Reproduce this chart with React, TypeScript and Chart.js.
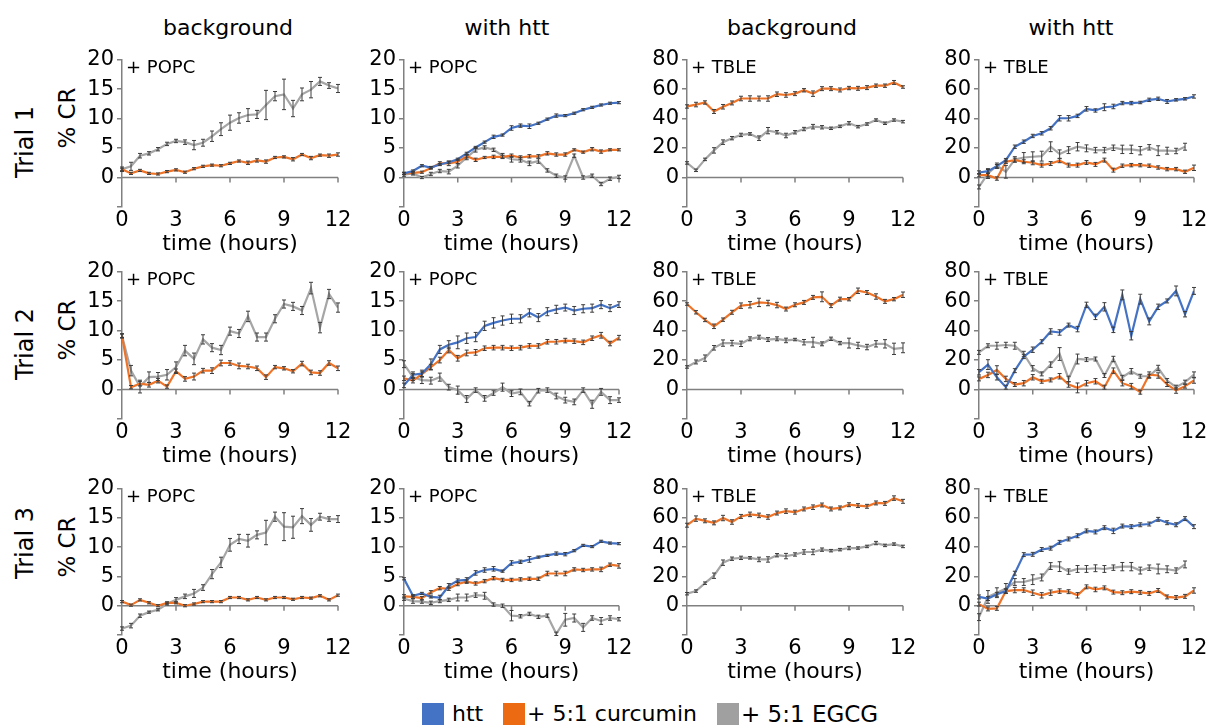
import React, { useEffect, useRef } from 'react';
import { Chart, registerables } from 'chart.js';

Chart.register(...registerables);

// ---------- shared axis values ----------
const hours = [0, 0.5, 1, 1.5, 2, 2.5, 3, 3.5, 4, 4.5, 5, 5.5, 6, 6.5, 7, 7.5, 8, 8.5, 9, 9.5, 10, 10.5, 11, 11.5, 12];
const xTicks = [0, 3, 6, 9, 12];
const popcTicks = [-5, 0, 5, 10, 15, 20];
const tbleTicks = [-20, 0, 20, 40, 60, 80];
const columnTitles = ['background', 'with htt', 'background', 'with htt'];
const rowLabels = ['Trial 1', 'Trial 2', 'Trial 3'];
const legendLabels = ['htt', '+ 5:1 curcumin', '+ 5:1 EGCG'];

// ---------- Trial 1 ----------
const t1BgPopcCur = [1.4, 0.7, 1.2, 0.7, 0.6, 1.0, 1.3, 0.9, 1.5, 1.9, 2.1, 2.0, 2.4, 2.8, 2.5, 2.9, 2.7, 3.4, 3.5, 3.1, 3.9, 3.3, 3.8, 3.7, 3.9];
const t1BgPopcCurErr = [0.1, 0.1, 0.1, 0.1, 0.1, 0.1, 0.1, 0.1, 0.1, 0.1, 0.1, 0.1, 0.1, 0.1, 0.2, 0.2, 0.2, 0.1, 0.1, 0.2, 0.1, 0.2, 0.1, 0.2, 0.2];
const t1BgPopcEgcg = [1.4, 1.9, 3.7, 4.1, 4.8, 5.7, 6.2, 6.0, 5.5, 5.9, 7.0, 8.2, 9.3, 10.1, 10.6, 10.7, 12.3, 13.8, 14.1, 11.7, 14.1, 14.9, 16.3, 15.6, 15.1];
const t1BgPopcEgcgErr = [0.3, 0.6, 0.3, 0.2, 0.2, 0.2, 0.2, 0.3, 0.7, 0.5, 0.8, 1.0, 1.2, 0.8, 1.0, 0.6, 2.4, 0.7, 2.5, 1.3, 1.0, 1.3, 0.6, 0.4, 0.6];

const t1HttPopcHtt = [0.7, 1.1, 2.0, 1.7, 2.2, 2.6, 3.1, 4.1, 5.1, 6.0, 6.9, 7.2, 8.4, 8.8, 8.7, 9.2, 9.9, 10.5, 10.5, 10.9, 11.5, 11.9, 12.3, 12.6, 12.7];
const t1HttPopcHttErr = [0.1, 0.1, 0.1, 0.1, 0.1, 0.1, 0.1, 0.1, 0.1, 0.1, 0.2, 0.1, 0.3, 0.2, 0.3, 0.1, 0.1, 0.2, 0.1, 0.1, 0.1, 0.1, 0.1, 0.1, 0.1];
const t1HttPopcCur = [0.7, 0.8, 0.9, 1.6, 2.4, 2.4, 2.7, 3.6, 3.0, 3.4, 3.5, 3.5, 3.7, 3.4, 3.6, 3.6, 4.1, 3.9, 3.9, 4.7, 4.3, 4.8, 4.4, 4.7, 4.7];
const t1HttPopcCurErr = [0.1, 0.1, 0.1, 0.1, 0.2, 0.3, 0.3, 0.2, 0.2, 0.1, 0.2, 0.2, 0.2, 0.2, 0.2, 0.2, 0.2, 0.2, 0.2, 0.1, 0.1, 0.2, 0.2, 0.1, 0.1];
const t1HttPopcEgcg = [0.5, 0.7, 0.0, 0.6, 1.1, 1.0, 2.0, 3.4, 4.7, 5.1, 4.7, 3.7, 3.1, 3.0, 2.4, 2.8, 1.2, 0.3, 0.0, 3.7, 0.0, 0.3, -1.1, -0.2, 0.1];
const t1HttPopcEgcgErr = [0.2, 0.2, 0.1, 0.2, 0.2, 0.3, 0.3, 0.3, 0.3, 0.2, 0.2, 0.3, 0.4, 0.3, 0.3, 0.3, 0.2, 0.2, 0.2, 0.2, 0.2, 0.2, 0.2, 0.2, 0.2];

const t1BgTbleCur = [48.2, 49.5, 50.9, 44.8, 48.0, 50.6, 53.6, 53.6, 53.6, 53.6, 56.5, 56.0, 56.9, 59.2, 56.9, 60.3, 60.3, 59.4, 60.7, 60.5, 61.0, 62.3, 62.3, 64.5, 61.4];
const t1BgTbleCurErr = [0.8, 1.2, 0.8, 1.0, 1.2, 1.0, 1.2, 1.5, 1.3, 1.5, 1.2, 1.2, 1.0, 0.8, 1.5, 1.0, 1.0, 1.0, 0.8, 1.0, 1.0, 0.8, 0.8, 1.0, 0.5];
const t1BgTbleEgcg = [9.9, 4.9, 12.3, 18.4, 24.0, 26.7, 28.9, 29.6, 26.7, 31.8, 30.7, 28.5, 30.7, 32.9, 34.5, 34.1, 33.4, 34.7, 36.8, 34.5, 36.3, 39.0, 36.8, 39.0, 37.9];
const t1BgTbleEgcgErr = [0.5, 0.5, 0.5, 1.5, 1.2, 0.8, 0.8, 0.5, 1.2, 1.8, 0.8, 1.2, 0.8, 0.8, 1.2, 0.8, 0.5, 0.5, 0.8, 0.5, 0.5, 0.5, 0.5, 0.5, 0.5];

const t1HttTbleHtt = [3.4, 4.3, 7.7, 11.8, 20.9, 24.3, 28.2, 30.0, 33.4, 40.2, 40.2, 41.8, 46.6, 45.5, 47.7, 48.2, 50.5, 50.5, 50.9, 52.7, 53.4, 51.6, 52.7, 53.4, 55.0];
const t1HttTbleHttErr = [0.8, 0.8, 0.8, 0.8, 0.8, 0.8, 0.8, 0.8, 0.8, 1.5, 1.5, 0.8, 1.2, 0.8, 2.0, 1.2, 0.8, 0.8, 0.5, 0.8, 0.8, 1.0, 0.5, 0.5, 0.8];
const t1HttTbleCur = [1.6, 1.6, -0.7, 10.7, 11.8, 10.7, 10.0, 8.4, 9.5, 11.4, 8.4, 8.4, 10.2, 8.9, 11.8, 5.0, 8.0, 8.4, 8.4, 8.0, 6.8, 5.7, 5.7, 3.9, 6.6];
const t1HttTbleCurErr = [0.8, 0.8, 0.8, 0.8, 1.0, 1.0, 1.0, 1.0, 1.0, 1.0, 1.0, 1.0, 1.0, 1.0, 1.0, 1.0, 0.8, 0.8, 0.8, 0.8, 0.8, 0.8, 0.8, 0.8, 1.5];
const t1HttTbleEgcg = [-6.4, 2.7, 8.0, 3.9, 12.3, 13.6, 14.1, 14.5, 20.9, 15.9, 18.6, 20.9, 19.8, 18.6, 18.6, 20.2, 19.1, 19.1, 18.2, 20.5, 18.2, 18.2, 18.0, 20.9, null];
const t1HttTbleEgcgErr = [1.0, 3.0, 1.5, 4.0, 1.5, 3.0, 3.0, 3.0, 3.0, 2.5, 2.0, 2.5, 2.0, 1.5, 1.5, 1.5, 2.5, 2.5, 2.5, 1.5, 3.0, 2.0, 1.5, 2.0, 0];

// ---------- Trial 2 ----------
const t2BgPopcCur = [9.1, 0.4, 1.0, 0.8, 1.5, 0.5, 3.1, 1.8, 2.2, 3.2, 3.2, 4.5, 4.5, 4.0, 3.9, 3.6, 2.1, 3.8, 3.6, 3.1, 4.4, 2.9, 2.8, 4.5, 3.6];
const t2BgPopcCurErr = [0.2, 0.2, 0.3, 0.3, 0.3, 0.2, 0.3, 0.3, 0.5, 0.3, 0.4, 0.4, 0.3, 0.4, 0.3, 0.3, 0.3, 0.2, 0.2, 0.2, 0.3, 0.3, 0.3, 0.3, 0.3];
const t2BgPopcEgcg = [9.1, 3.2, 0.5, 2.1, 2.2, 2.5, 3.8, 6.6, 5.2, 8.5, 7.1, 6.7, 9.9, 9.5, 12.4, 8.9, 8.9, 12.0, 14.5, 14.1, 13.4, 17.2, 10.5, 16.2, 13.9];
const t2BgPopcEgcgErr = [0.3, 0.8, 1.0, 0.8, 0.6, 0.8, 0.8, 0.8, 0.9, 0.7, 0.6, 0.7, 0.6, 0.6, 0.8, 0.6, 0.6, 0.6, 0.6, 0.6, 0.6, 0.9, 0.8, 0.7, 0.7];

const t2HttPopcHtt = [0.7, 2.5, 2.7, 4.3, 6.8, 7.6, 8.0, 8.7, 8.9, 10.8, 11.3, 11.7, 12.0, 12.0, 13.0, 12.2, 13.2, 13.6, 13.9, 13.4, 13.7, 13.8, 14.4, 13.8, 14.4];
const t2HttPopcHttErr = [0.3, 0.4, 0.5, 0.8, 0.6, 0.6, 1.0, 0.8, 0.7, 0.7, 0.8, 0.7, 0.7, 0.6, 0.6, 0.6, 0.6, 0.6, 0.5, 0.6, 0.6, 0.6, 0.6, 0.5, 0.4];
const t2HttPopcCur = [1.9, 1.5, 2.6, 3.8, 5.0, 6.7, 5.3, 6.2, 6.3, 7.0, 7.1, 7.1, 7.0, 7.1, 7.4, 7.4, 8.1, 8.1, 8.3, 8.2, 8.0, 8.7, 9.2, 7.8, 8.8];
const t2HttPopcCurErr = [0.3, 0.3, 0.3, 0.4, 0.4, 0.4, 0.4, 0.4, 0.4, 0.3, 0.3, 0.3, 0.3, 0.3, 0.3, 0.3, 0.3, 0.3, 0.3, 0.3, 0.3, 0.3, 0.4, 0.3, 0.3];
const t2HttPopcEgcg = [4.3, 2.1, 1.6, 1.5, 2.1, 0.4, -0.1, -1.6, -0.1, -1.5, -0.6, 0.4, -0.7, -0.4, -2.4, -0.2, -0.1, -1.1, -1.8, -2.1, -0.1, -2.5, -0.4, -1.8, -1.8];
const t2HttPopcEgcgErr = [0.5, 0.5, 0.5, 0.5, 0.6, 0.4, 0.6, 0.5, 0.3, 0.4, 0.3, 0.6, 0.4, 0.4, 0.3, 0.3, 0.3, 0.4, 0.4, 0.4, 0.3, 0.6, 0.5, 0.5, 0.3];

const t2BgTbleCur = [58.0, 52.4, 47.2, 42.9, 47.4, 52.4, 56.9, 57.5, 59.1, 58.7, 57.3, 54.6, 57.5, 59.1, 62.5, 62.9, 56.9, 61.3, 61.3, 67.0, 65.8, 63.1, 59.8, 61.3, 64.3];
const t2BgTbleCurErr = [0.5, 0.8, 0.8, 1.2, 0.8, 1.0, 1.5, 1.8, 2.5, 1.5, 1.5, 1.0, 1.0, 1.0, 1.0, 3.0, 1.0, 1.0, 0.8, 1.5, 1.0, 1.5, 1.0, 0.8, 1.5];
const t2BgTbleEgcg = [15.3, 18.7, 21.3, 28.3, 31.5, 31.5, 31.0, 34.4, 35.5, 33.9, 34.4, 33.3, 33.9, 32.1, 32.1, 31.0, 34.4, 31.5, 31.5, 29.9, 28.8, 31.0, 31.0, 27.6, 28.3];
const t2BgTbleEgcgErr = [0.5, 1.0, 1.8, 1.2, 1.8, 1.5, 1.5, 1.0, 1.0, 1.0, 1.0, 1.2, 0.5, 1.5, 3.0, 1.0, 0.8, 0.8, 3.0, 1.8, 1.5, 1.8, 2.5, 3.5, 3.0];

const t2HttTbleHtt = [11.7, 16.9, 8.3, 1.6, 12.8, 22.3, 27.0, 32.4, 39.4, 38.7, 43.7, 41.0, 57.4, 49.3, 56.1, 40.5, 64.2, 36.5, 61.3, 46.2, 56.1, 60.1, 66.9, 51.1, 66.9];
const t2HttTbleHttErr = [1.5, 3.0, 1.5, 1.0, 1.0, 1.0, 1.5, 1.0, 1.5, 1.5, 1.0, 1.5, 1.5, 1.5, 2.5, 1.5, 3.0, 2.5, 3.0, 2.0, 1.5, 1.0, 3.0, 1.5, 2.0];
const t2HttTbleCur = [7.2, 9.9, 13.3, 7.2, 3.4, 4.3, 8.3, 5.6, 6.5, 9.0, 3.4, 1.1, 4.3, 5.6, 1.6, 12.8, 4.3, 2.3, -1.8, 10.1, 9.5, 3.4, -0.7, 2.3, 6.1];
const t2HttTbleCurErr = [1.0, 1.5, 2.5, 1.5, 1.0, 1.5, 1.5, 1.0, 1.0, 1.5, 1.5, 3.0, 1.5, 1.5, 1.0, 1.5, 1.5, 1.5, 1.0, 1.5, 1.5, 1.0, 1.5, 1.0, 1.5];
const t2HttTbleEgcg = [25.2, 29.7, 29.7, 30.2, 29.7, 24.1, 14.4, 10.6, 16.9, 24.1, 7.2, 20.7, 20.3, 20.7, 9.5, 20.7, 8.3, 12.4, 9.0, 9.0, 14.6, 6.1, 1.6, 5.0, 10.1];
const t2HttTbleEgcgErr = [1.0, 1.0, 2.0, 1.5, 2.0, 1.5, 1.5, 1.0, 1.5, 4.0, 1.5, 3.0, 1.0, 1.0, 1.0, 1.5, 1.0, 1.5, 1.0, 1.0, 1.5, 1.0, 1.0, 1.0, 1.5];

// ---------- Trial 3 ----------
const t3BgPopcCur = [0.7, 0.1, 1.0, 0.5, 0.0, 0.5, 0.5, 0.0, 0.3, 0.7, 0.7, 0.7, 1.4, 1.4, 1.0, 1.4, 1.0, 1.4, 1.4, 1.1, 1.4, 1.3, 1.7, 1.0, 1.8];
const t3BgPopcCurErr = [0.1, 0.1, 0.1, 0.1, 0.1, 0.1, 0.1, 0.1, 0.1, 0.1, 0.1, 0.1, 0.1, 0.1, 0.1, 0.1, 0.1, 0.1, 0.1, 0.1, 0.1, 0.1, 0.1, 0.1, 0.1];
const t3BgPopcEgcg = [-3.9, -3.4, -1.7, -1.1, -0.7, 0.3, 1.0, 1.6, 2.1, 3.1, 5.4, 7.4, 10.4, 11.4, 11.1, 12.1, 12.5, 15.2, 13.5, 13.4, 15.3, 13.8, 15.2, 14.8, 14.8];
const t3BgPopcEgcgErr = [0.2, 0.3, 0.2, 0.1, 0.1, 0.1, 0.3, 0.3, 0.6, 0.4, 0.7, 0.8, 1.0, 0.7, 1.0, 0.6, 2.0, 0.7, 2.3, 1.8, 1.2, 1.0, 0.5, 0.3, 0.5];

const t3HttPopcHtt = [4.6, 1.7, 2.1, 1.5, 1.4, 3.4, 4.3, 4.4, 5.6, 6.1, 6.3, 5.9, 7.3, 7.5, 7.9, 8.3, 8.6, 8.9, 8.8, 9.4, 10.3, 10.1, 11.0, 10.7, 10.6];
const t3HttPopcHttErr = [0.1, 0.1, 0.1, 0.1, 0.3, 0.3, 0.2, 0.3, 0.3, 0.3, 0.3, 0.1, 0.3, 0.2, 0.4, 0.1, 0.1, 0.2, 0.2, 0.1, 0.1, 0.1, 0.1, 0.1, 0.1];
const t3HttPopcCur = [1.6, 1.5, 1.3, 2.3, 3.0, 2.9, 3.7, 4.1, 3.8, 4.2, 4.7, 4.4, 4.4, 4.5, 4.6, 4.6, 5.5, 5.5, 5.5, 6.2, 6.1, 6.2, 6.2, 7.0, 6.8];
const t3HttPopcCurErr = [0.2, 0.2, 0.2, 0.2, 0.2, 0.2, 0.2, 0.2, 0.2, 0.2, 0.2, 0.2, 0.2, 0.2, 0.2, 0.2, 0.3, 0.3, 0.3, 0.2, 0.2, 0.2, 0.3, 0.2, 0.3];
const t3HttPopcEgcg = [1.2, 0.8, 0.7, 0.5, 0.8, 1.0, 1.4, 1.4, 1.8, 1.7, 0.2, 0.0, -1.7, -1.8, -1.4, -1.9, -1.7, -4.8, -2.4, -2.1, -3.7, -2.1, -2.6, -2.1, -2.3];
const t3HttPopcEgcgErr = [0.2, 0.3, 0.2, 0.2, 0.2, 0.2, 0.5, 0.5, 0.3, 0.5, 0.2, 0.2, 0.8, 0.2, 0.2, 0.2, 0.2, 0.2, 1.0, 0.6, 0.6, 0.3, 0.5, 0.3, 0.2];

const t3BgTbleCur = [55.0, 59.5, 58.0, 56.6, 59.9, 57.2, 61.0, 62.4, 61.7, 60.6, 63.3, 64.6, 63.9, 66.1, 67.3, 68.8, 66.1, 66.8, 69.0, 68.4, 67.9, 70.2, 69.9, 73.5, 71.3];
const t3BgTbleCurErr = [1.0, 1.5, 1.0, 1.0, 1.5, 1.2, 1.0, 1.2, 1.2, 1.2, 1.0, 1.2, 1.0, 1.0, 1.2, 1.0, 1.0, 1.0, 1.0, 1.0, 1.0, 1.0, 1.0, 1.2, 1.0];
const t3BgTbleEgcg = [8.2, 10.0, 15.4, 20.5, 29.4, 32.1, 32.7, 32.7, 31.6, 31.6, 34.5, 33.9, 35.0, 36.7, 36.7, 38.3, 37.6, 38.3, 39.4, 39.4, 40.5, 42.8, 41.2, 42.1, 40.5];
const t3BgTbleEgcgErr = [0.5, 0.5, 0.5, 1.5, 1.5, 0.8, 0.8, 0.5, 1.2, 1.5, 0.8, 1.5, 0.8, 1.2, 1.5, 0.8, 0.5, 0.5, 0.8, 0.5, 0.5, 0.8, 0.5, 0.5, 0.5];

const t3HttTbleHtt = [6.0, 4.9, 7.8, 10.0, 22.2, 34.9, 35.1, 38.4, 39.3, 43.3, 45.6, 47.8, 51.1, 50.4, 53.3, 51.1, 54.4, 54.0, 55.3, 55.8, 59.0, 56.7, 55.3, 59.5, 54.0];
const t3HttTbleHttErr = [1.0, 1.0, 1.0, 1.0, 1.0, 1.0, 1.0, 1.0, 1.0, 1.0, 1.0, 1.0, 1.0, 1.0, 1.0, 1.5, 1.0, 1.0, 1.0, 1.0, 1.0, 1.0, 1.0, 1.0, 1.0];
const t3HttTbleCur = [1.1, -2.2, -1.8, 10.0, 10.7, 10.7, 8.9, 7.1, 8.9, 10.0, 9.6, 7.1, 12.9, 11.1, 12.2, 9.3, 8.9, 9.6, 9.1, 8.4, 10.4, 6.0, 5.6, 6.4, 10.4];
const t3HttTbleCurErr = [1.0, 1.0, 1.0, 1.2, 1.5, 1.2, 1.5, 1.5, 1.5, 1.2, 1.0, 1.5, 1.0, 1.2, 1.0, 1.0, 1.0, 1.0, 1.0, 1.0, 1.0, 1.0, 1.0, 1.0, 1.5];
const t3HttTbleEgcg = [-7.8, 6.0, 8.9, 11.8, 16.2, 16.2, 17.8, 19.3, 27.1, 26.7, 23.3, 25.1, 25.1, 25.6, 25.1, 26.0, 26.7, 26.7, 24.0, 26.0, 25.1, 24.9, 24.0, 28.2, null];
const t3HttTbleEgcgErr = [2, 4, 3, 3, 2, 2, 3, 2, 2, 3, 1.5, 2, 2, 2, 2, 1.5, 2.5, 2.5, 2, 1.5, 3, 2, 1.5, 2, 0];

// ---------- styling ----------
const FONT = '"DejaVu Sans", "Liberation Sans", sans-serif';
const HTT_COLOR = '#4472C4';
const CUR_COLOR = '#EE7429';
const EGCG_COLOR = '#A6A6A6';
const AXIS_COLOR = '#808080';
const legendColors = [HTT_COLOR, '#EC6A12', '#A0A0A0'];

const colLeft = [122, 404, 687, 979];
const colWidth = [216, 215, 216, 215];
const rowTop = [58, 270, 487];
const rowHeight = [149, 149, 148];
const Y_W = 52;
const PAD_T = 14;
const PAD_R = 18;
const X_H = 50;

type Series = { values: (number | null)[]; errors: number[]; color: string };
type PanelCfg = { row: number; col: number; lipid: string; ticks: number[]; series: Series[] };

const s = (values: (number | null)[], errors: number[], color: string): Series => ({ values, errors, color });

const panels: PanelCfg[] = [
  { row: 0, col: 0, lipid: '+ POPC', ticks: popcTicks, series: [s(t1BgPopcCur, t1BgPopcCurErr, CUR_COLOR), s(t1BgPopcEgcg, t1BgPopcEgcgErr, EGCG_COLOR)] },
  { row: 0, col: 1, lipid: '+ POPC', ticks: popcTicks, series: [s(t1HttPopcHtt, t1HttPopcHttErr, HTT_COLOR), s(t1HttPopcCur, t1HttPopcCurErr, CUR_COLOR), s(t1HttPopcEgcg, t1HttPopcEgcgErr, EGCG_COLOR)] },
  { row: 0, col: 2, lipid: '+ TBLE', ticks: tbleTicks, series: [s(t1BgTbleCur, t1BgTbleCurErr, CUR_COLOR), s(t1BgTbleEgcg, t1BgTbleEgcgErr, EGCG_COLOR)] },
  { row: 0, col: 3, lipid: '+ TBLE', ticks: tbleTicks, series: [s(t1HttTbleHtt, t1HttTbleHttErr, HTT_COLOR), s(t1HttTbleCur, t1HttTbleCurErr, CUR_COLOR), s(t1HttTbleEgcg, t1HttTbleEgcgErr, EGCG_COLOR)] },
  { row: 1, col: 0, lipid: '+ POPC', ticks: popcTicks, series: [s(t2BgPopcCur, t2BgPopcCurErr, CUR_COLOR), s(t2BgPopcEgcg, t2BgPopcEgcgErr, EGCG_COLOR)] },
  { row: 1, col: 1, lipid: '+ POPC', ticks: popcTicks, series: [s(t2HttPopcHtt, t2HttPopcHttErr, HTT_COLOR), s(t2HttPopcCur, t2HttPopcCurErr, CUR_COLOR), s(t2HttPopcEgcg, t2HttPopcEgcgErr, EGCG_COLOR)] },
  { row: 1, col: 2, lipid: '+ TBLE', ticks: tbleTicks, series: [s(t2BgTbleCur, t2BgTbleCurErr, CUR_COLOR), s(t2BgTbleEgcg, t2BgTbleEgcgErr, EGCG_COLOR)] },
  { row: 1, col: 3, lipid: '+ TBLE', ticks: tbleTicks, series: [s(t2HttTbleHtt, t2HttTbleHttErr, HTT_COLOR), s(t2HttTbleCur, t2HttTbleCurErr, CUR_COLOR), s(t2HttTbleEgcg, t2HttTbleEgcgErr, EGCG_COLOR)] },
  { row: 2, col: 0, lipid: '+ POPC', ticks: popcTicks, series: [s(t3BgPopcCur, t3BgPopcCurErr, CUR_COLOR), s(t3BgPopcEgcg, t3BgPopcEgcgErr, EGCG_COLOR)] },
  { row: 2, col: 1, lipid: '+ POPC', ticks: popcTicks, series: [s(t3HttPopcHtt, t3HttPopcHttErr, HTT_COLOR), s(t3HttPopcCur, t3HttPopcCurErr, CUR_COLOR), s(t3HttPopcEgcg, t3HttPopcEgcgErr, EGCG_COLOR)] },
  { row: 2, col: 2, lipid: '+ TBLE', ticks: tbleTicks, series: [s(t3BgTbleCur, t3BgTbleCurErr, CUR_COLOR), s(t3BgTbleEgcg, t3BgTbleEgcgErr, EGCG_COLOR)] },
  { row: 2, col: 3, lipid: '+ TBLE', ticks: tbleTicks, series: [s(t3HttTbleHtt, t3HttTbleHttErr, HTT_COLOR), s(t3HttTbleCur, t3HttTbleCurErr, CUR_COLOR), s(t3HttTbleEgcg, t3HttTbleEgcgErr, EGCG_COLOR)] },
];

// ---------- plugins ----------
const zeroLinePlugin = {
  id: 'zeroLine',
  beforeDatasetsDraw(chart: any) {
    const { ctx, scales } = chart;
    const x = scales.x;
    const y0 = scales.y.getPixelForValue(0);
    ctx.save();
    ctx.strokeStyle = AXIS_COLOR;
    ctx.lineWidth = 1.5;
    ctx.beginPath();
    ctx.moveTo(x.getPixelForValue(0), y0);
    ctx.lineTo(x.getPixelForValue(12), y0);
    xTicks.forEach((t) => {
      if (t === 0) return;
      const px = x.getPixelForValue(t);
      ctx.moveTo(px, y0);
      ctx.lineTo(px, y0 + 5);
    });
    ctx.stroke();
    ctx.restore();
  },
};

const errorBarPlugin = {
  id: 'errorBars',
  afterDatasetsDraw(chart: any) {
    const { ctx, scales } = chart;
    ctx.save();
    ctx.strokeStyle = '#3c3c3c';
    ctx.lineWidth = 1;
    chart.data.datasets.forEach((ds: any, i: number) => {
      const meta = chart.getDatasetMeta(i);
      meta.data.forEach((pt: any, j: number) => {
        const v = ds.data[j].y;
        if (v === null || v === undefined) return;
        const e = ds.errors[j] || 0;
        const x = pt.x;
        const yt = scales.y.getPixelForValue(v + e) - 0.5;
        const yb = scales.y.getPixelForValue(v - e) + 0.5;
        ctx.beginPath();
        ctx.moveTo(x, yt);
        ctx.lineTo(x, yb);
        ctx.moveTo(x - 2, yt);
        ctx.lineTo(x + 2, yt);
        ctx.moveTo(x - 2, yb);
        ctx.lineTo(x + 2, yb);
        ctx.stroke();
      });
    });
    ctx.restore();
  },
};

const lipidLabelPlugin = {
  id: 'lipidLabel',
  afterDraw(chart: any, _args: any, opts: any) {
    const { ctx, chartArea } = chart;
    ctx.save();
    ctx.font = `18px ${FONT}`;
    ctx.fillStyle = '#000';
    ctx.textBaseline = 'middle';
    ctx.textAlign = 'left';
    ctx.fillText(opts.text, chartArea.left + 4, chartArea.top + 9);
    ctx.restore();
  },
};

function Panel({ cfg }: { cfg: PanelCfg }) {
  const ref = useRef<HTMLCanvasElement>(null);
  const W = Y_W + colWidth[cfg.col] + PAD_R;
  const H = PAD_T + rowHeight[cfg.row] + X_H;
  const left = colLeft[cfg.col] - Y_W;
  const top = rowTop[cfg.row] - PAD_T;

  useEffect(() => {
    const ticks = cfg.ticks;
    const yMin = ticks[0];
    const yMax = ticks[ticks.length - 1];
    const chart = new Chart(ref.current as HTMLCanvasElement, {
      type: 'line',
      data: {
        datasets: cfg.series.map((se) => ({
          data: se.values.map((v, i) => ({ x: hours[i], y: v })),
          errors: se.errors,
          borderColor: se.color,
          backgroundColor: se.color,
          borderWidth: 2.2,
          pointRadius: 0,
          tension: 0,
          spanGaps: false,
        })) as any,
      },
      options: {
        responsive: false,
        animation: false,
        devicePixelRatio: 1,
        layout: { padding: { top: PAD_T, right: PAD_R, left: 0, bottom: 0 } },
        plugins: {
          legend: { display: false },
          tooltip: { enabled: false },
          lipidLabel: { text: cfg.lipid },
        } as any,
        scales: {
          x: {
            type: 'linear',
            min: 0,
            max: 12,
            afterBuildTicks: (sc: any) => {
              sc.ticks = xTicks.map((v) => ({ value: v }));
            },
            afterFit: (sc: any) => {
              sc.height = X_H;
            },
            border: { display: false },
            grid: { display: false, drawTicks: false },
            ticks: { font: { family: FONT, size: 21 }, color: '#000', padding: 1, maxRotation: 0, autoSkip: false },
            title: { display: true, text: 'time (hours)', font: { family: FONT, size: 22 }, color: '#000', padding: 0 },
          },
          y: {
            type: 'linear',
            min: yMin,
            max: yMax,
            afterBuildTicks: (sc: any) => {
              sc.ticks = ticks.map((v) => ({ value: v }));
            },
            afterFit: (sc: any) => {
              sc.width = Y_W;
            },
            border: { display: true, color: AXIS_COLOR, width: 1.5 },
            grid: { drawOnChartArea: false, drawTicks: true, tickLength: 5, color: AXIS_COLOR, lineWidth: 1.5 },
            ticks: {
              font: { family: FONT, size: 21 },
              color: '#000',
              padding: 3,
              callback: (v: any) => (v === yMin ? '' : String(v)),
            },
          },
        },
      } as any,
      plugins: [zeroLinePlugin, errorBarPlugin, lipidLabelPlugin],
    });
    return () => chart.destroy();
  }, []);

  return (
    <canvas
      ref={ref}
      width={W}
      height={H}
      style={{ position: 'absolute', left, top, width: W, height: H }}
    />
  );
}

const colTitleX = [228, 507, 792, 1071];
const rowLabelY = [142, 344, 543];
const crLabelY = [118, 330, 547];
const legendSquareX = [422, 503, 717];
const legendTextX = [452, 527, 741];
const legendFontSizes = [22, 22, 23];

export default function App() {
  return (
    <div
      style={{
        position: 'absolute',
        left: 0,
        top: 0,
        width: 1209,
        height: 725,
        overflow: 'hidden',
        background: '#fff',
        fontFamily: FONT,
        color: '#000',
      }}
    >
      {columnTitles.map((t, i) => (
        <div
          key={'ct' + i}
          style={{ position: 'absolute', left: colTitleX[i] - 100, top: 15, width: 200, textAlign: 'center', fontSize: 22, lineHeight: '26px' }}
        >
          {t}
        </div>
      ))}
      {rowLabels.map((t, i) => (
        <div
          key={'rl' + i}
          style={{
            position: 'absolute', left: 25 - 60, top: rowLabelY[i] - 14, width: 120, height: 28,
            lineHeight: '28px', textAlign: 'center', fontSize: 24, transform: 'rotate(-90deg)',
          }}
        >
          {t}
        </div>
      ))}
      {crLabelY.map((y, i) => (
        <div
          key={'cr' + i}
          style={{
            position: 'absolute', left: 67 - 60, top: y - 14, width: 120, height: 28,
            lineHeight: '28px', textAlign: 'center', fontSize: 23, transform: 'rotate(-90deg)',
          }}
        >
          % CR
        </div>
      ))}
      {panels.map((p, i) => (
        <Panel key={'p' + i} cfg={p} />
      ))}
      {legendLabels.map((t, i) => (
        <React.Fragment key={'lg' + i}>
          <div style={{ position: 'absolute', left: legendSquareX[i], top: 703, width: 22, height: 22, background: legendColors[i] }} />
          <div style={{ position: 'absolute', left: legendTextX[i], top: 700, fontSize: legendFontSizes[i], lineHeight: '28px', whiteSpace: 'nowrap' }}>{t}</div>
        </React.Fragment>
      ))}
    </div>
  );
}
